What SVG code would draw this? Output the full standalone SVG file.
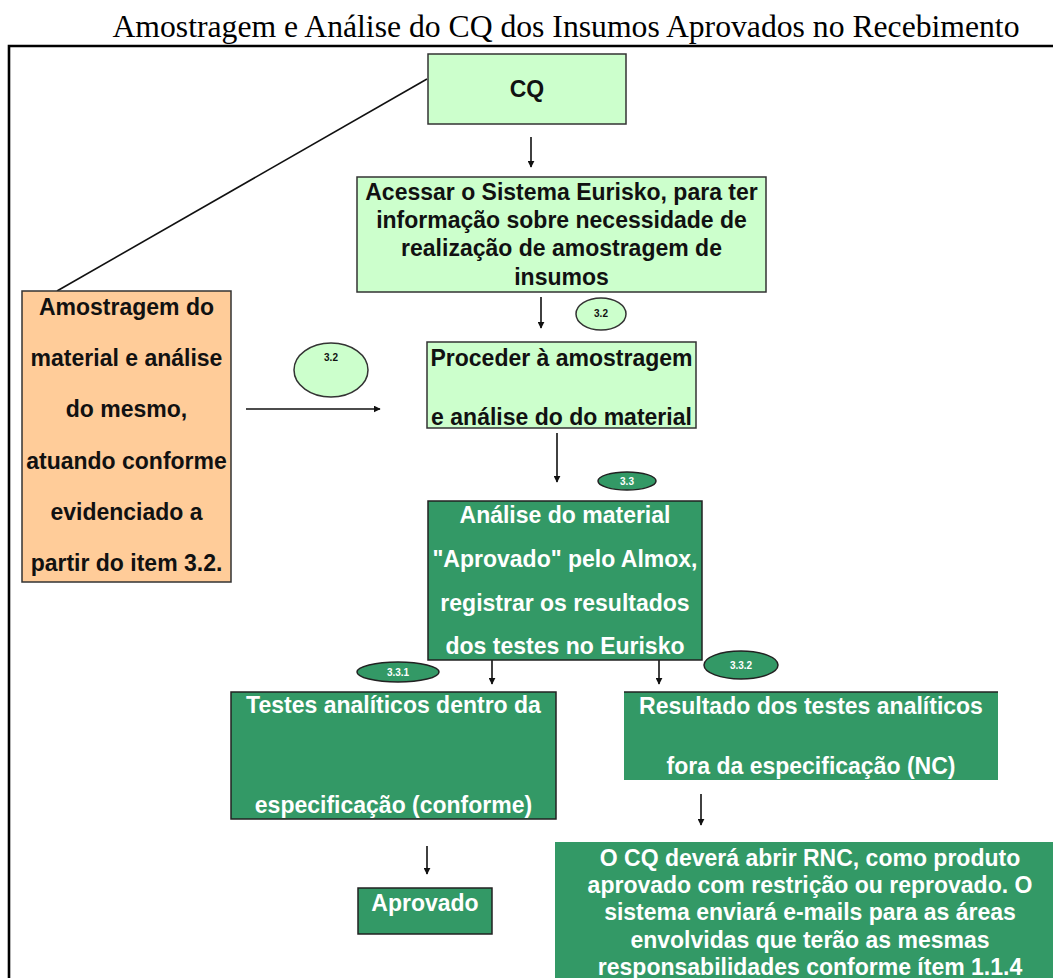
<svg xmlns="http://www.w3.org/2000/svg" width="1053" height="978" viewBox="0 0 1053 978">
  <style>
    .t { font-family: "Liberation Sans", Arial, sans-serif; font-weight: bold; font-size: 23px; text-anchor: middle; dominant-baseline: central; }
    .dark { fill: #111111; }
    .light { fill: #ffffff; }
    .tag { font-family: "Liberation Sans", Arial, sans-serif; font-weight: bold; font-size: 10px; text-anchor: middle; dominant-baseline: central; }
    .pale { fill: #ccffcc; stroke: #333333; stroke-width: 1.5; }
    .deep { fill: #339966; stroke: #222222; stroke-width: 1.5; }
    .deepflat { fill: #339966; }
    .peach { fill: #ffcc99; stroke: #333333; stroke-width: 1.5; }
    .conn { fill: none; stroke: #111111; stroke-width: 1.6; }
  </style>
  <defs>
    <marker id="arrow" viewBox="0 0 10 10" refX="9" refY="5" markerWidth="7" markerHeight="7" markerUnits="userSpaceOnUse" orient="auto">
      <path d="M0,0 L10,5 L0,10 z" fill="#111111"/>
    </marker>
  </defs>

  <rect width="1053" height="978" fill="#ffffff"/>

  <!-- page title and frame -->
  <text x="566" y="37" font-family="'Liberation Serif', 'Times New Roman', serif" font-size="32" text-anchor="middle" textLength="907" lengthAdjust="spacingAndGlyphs" fill="#000000">Amostragem e Análise do CQ dos Insumos Aprovados no Recebimento</text>
  <path d="M9,978 V46 H1053" fill="none" stroke="#000000" stroke-width="2.6"/>

  <!-- connectors -->
  <g id="connectors">
    <line class="conn" x1="427" y1="79" x2="57" y2="291"/>
    <line class="conn" x1="531" y1="137" x2="531" y2="167" marker-end="url(#arrow)"/>
    <line class="conn" x1="541" y1="297" x2="541" y2="328" marker-end="url(#arrow)"/>
    <line class="conn" x1="246" y1="409" x2="380" y2="409" marker-end="url(#arrow)"/>
    <line class="conn" x1="557" y1="433" x2="557" y2="482" marker-end="url(#arrow)"/>
    <line class="conn" x1="492" y1="660" x2="492" y2="684" marker-end="url(#arrow)"/>
    <line class="conn" x1="659" y1="660" x2="659" y2="684" marker-end="url(#arrow)"/>
    <line class="conn" x1="427" y1="846" x2="427" y2="874" marker-end="url(#arrow)"/>
    <line class="conn" x1="701" y1="794" x2="701" y2="825" marker-end="url(#arrow)"/>
  </g>

  <!-- step tags -->
  <g id="tag-3-2-left">
    <ellipse class="pale" cx="331" cy="370" rx="37" ry="27"/>
    <text class="tag dark" x="331" y="357">3.2</text>
  </g>
  <g id="tag-3-2">
    <ellipse class="pale" cx="601" cy="314" rx="25" ry="16"/>
    <text class="tag dark" x="601" y="313">3.2</text>
  </g>
  <g id="tag-3-3">
    <ellipse class="deep" cx="627" cy="481" rx="29" ry="9"/>
    <text class="tag light" x="627" y="481">3.3</text>
  </g>
  <g id="tag-3-3-1">
    <ellipse class="deep" cx="398" cy="672" rx="41" ry="10"/>
    <text class="tag light" x="398" y="672">3.3.1</text>
  </g>
  <g id="tag-3-3-2">
    <ellipse class="deep" cx="741" cy="665" rx="37" ry="14"/>
    <text class="tag light" x="741" y="665">3.3.2</text>
  </g>

  <!-- nodes -->
  <g id="node-cq">
    <rect class="pale" x="428" y="54" width="198" height="70"/>
    <text class="t dark" x="527" y="89">CQ</text>
  </g>

  <g id="node-acessar">
    <rect class="pale" x="357" y="177" width="409" height="115"/>
    <text class="t dark" x="561.5" y="192">Acessar o Sistema Eurisko, para ter</text>
    <text class="t dark" x="561.5" y="220">informação sobre necessidade de</text>
    <text class="t dark" x="561.5" y="248">realização de amostragem de</text>
    <text class="t dark" x="561.5" y="277">insumos</text>
  </g>

  <g id="node-amostragem">
    <rect class="peach" x="22" y="291" width="209" height="291"/>
    <text class="t dark" x="126.5" y="307">Amostragem do</text>
    <text class="t dark" x="126.5" y="358">material e análise</text>
    <text class="t dark" x="126.5" y="409">do mesmo,</text>
    <text class="t dark" x="126.5" y="461">atuando conforme</text>
    <text class="t dark" x="126.5" y="512">evidenciado a</text>
    <text class="t dark" x="126.5" y="563">partir do item 3.2.</text>
  </g>

  <g id="node-proceder">
    <rect class="pale" x="427" y="342" width="269" height="86"/>
    <text class="t dark" x="561.5" y="358">Proceder à amostragem</text>
    <text class="t dark" x="561.5" y="417">e análise do do material</text>
  </g>

  <g id="node-analise">
    <rect class="deep" x="428" y="501" width="274" height="159"/>
    <text class="t light" x="565" y="515">Análise do material</text>
    <text class="t light" x="565" y="559">"Aprovado" pelo Almox,</text>
    <text class="t light" x="565" y="603">registrar os resultados</text>
    <text class="t light" x="565" y="646">dos testes no Eurisko</text>
  </g>

  <g id="node-dentro">
    <rect class="deep" x="231" y="692" width="325" height="127"/>
    <text class="t light" x="393.5" y="705">Testes analíticos dentro da</text>
    <text class="t light" x="393.5" y="805">especificação (conforme)</text>
  </g>

  <g id="node-fora">
    <rect class="deepflat" x="624" y="692" width="374" height="88"/>
    <line x1="624" y1="692" x2="998" y2="692" stroke="#222222" stroke-width="1.5"/>
    <text class="t light" x="811" y="706">Resultado dos testes analíticos</text>
    <text class="t light" x="811" y="766">fora da especificação (NC)</text>
  </g>

  <g id="node-aprovado">
    <rect class="deep" x="358" y="888" width="134" height="46" stroke-width="2"/>
    <text class="t light" x="425" y="903">Aprovado</text>
  </g>

  <g id="node-rnc">
    <rect class="deepflat" x="555" y="842" width="510" height="140"/>
    <text class="t light" x="810" y="858">O CQ deverá abrir RNC, como produto</text>
    <text class="t light" x="810" y="885">aprovado com restrição ou reprovado. O</text>
    <text class="t light" x="810" y="912">sistema enviará e-mails para as áreas</text>
    <text class="t light" x="810" y="940">envolvidas que terão as mesmas</text>
    <text class="t light" x="810" y="967">responsabilidades conforme ítem 1.1.4</text>
  </g>
</svg>
